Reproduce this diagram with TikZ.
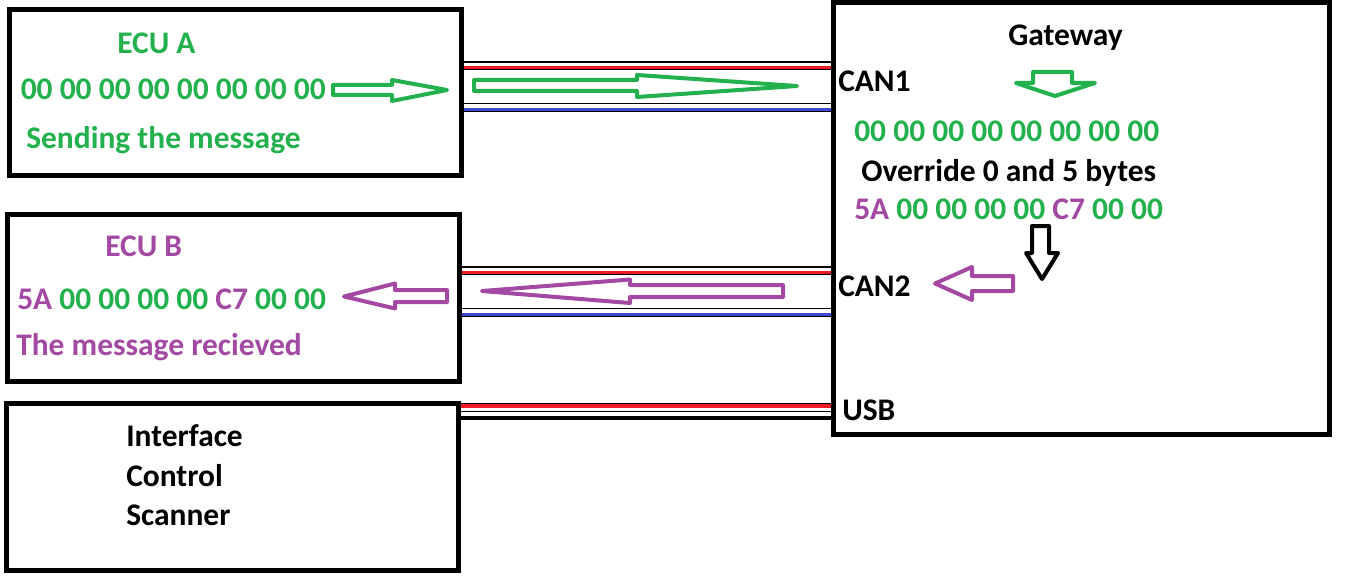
\documentclass[tikz,border=0pt]{standalone}
\usepackage{fontspec}
\setmainfont{Carlito}
\usetikzlibrary{fit}
\definecolor{ecugreen}{HTML}{22B14C}
\definecolor{ecupurple}{HTML}{A349A4}
\definecolor{wirered}{HTML}{ED1C24}
\definecolor{wireblue}{HTML}{3F48CC}

\begin{document}
\begin{tikzpicture}[x=0.75pt, y=-0.75pt,
	box/.style={draw, line width=3.75pt, inner sep=0pt},
	lbl/.style={anchor=base west, inner sep=0pt, font=\fontsize{23.6}{28}\selectfont\bfseries},
	thinw/.style={line width=1.1pt},
	canh/.style={line width=2.4pt, draw=wirered},
	canl/.style={line width=2.4pt, draw=wireblue},
	flow/.style={line width=3pt, line join=round}]
\useasboundingbox (0,0) rectangle (1355,581);
% boxes
\node[box, fit={(9.5,9.5) (461.5,175.5)}] (ecuA) {};
\node[box, fit={(7.5,214.5) (459.5,381)}] (ecuB) {};
\node[box, fit={(6.5,403) (458.5,570.5)}] (ics) {};
\node[box, fit={(833.5,2.5) (1329,434.5)}] (gw) {};
% CAN1 bus
\draw[thinw] (ecuA.east |- 0,62) -- (gw.west |- 0,62);
\draw[canh] (ecuA.east |- 0,67.5) -- (gw.west |- 0,67.5);
\draw[thinw] (ecuA.east |- 0,69.5) -- (gw.west |- 0,69.5);
\draw[thinw] (ecuA.east |- 0,103.5) -- (gw.west |- 0,103.5);
\draw[canl] (ecuA.east |- 0,109.3) -- (gw.west |- 0,109.3);
\draw[thinw] (ecuA.east |- 0,111.5) -- (gw.west |- 0,111.5);
% CAN2 bus
\draw[thinw] (ecuB.east |- 0,267) -- (gw.west |- 0,267);
\draw[canh] (ecuB.east |- 0,272.5) -- (gw.west |- 0,272.5);
\draw[thinw] (ecuB.east |- 0,274.5) -- (gw.west |- 0,274.5);
\draw[thinw] (ecuB.east |- 0,308.5) -- (gw.west |- 0,308.5);
\draw[canl] (ecuB.east |- 0,314.3) -- (gw.west |- 0,314.3);
\draw[thinw] (ecuB.east |- 0,316.5) -- (gw.west |- 0,316.5);
% USB
\draw[thinw] (ics.east |- 0,403.3) -- (gw.west |- 0,403.3);
\draw[line width=3pt, wirered] (ics.east |- 0,405.6) -- (gw.west |- 0,405.6);
\draw[thinw] (ics.east |- 0,411.3) -- (gw.west |- 0,411.3);
\draw[line width=3.2pt] (ics.east |- 0,418) -- (gw.west |- 0,418);
% ECU A
\node[lbl, ecugreen] (ecuAname) at (117,53.5) {ECU A};
\node[lbl, ecugreen] (ecuAdata) at (20.5,99.5) {00 00 00 00 00 00 00 00};
\node[lbl, ecugreen] (ecuAstate) at (26,148) {Sending the message};
% ECU B
\node[lbl, ecupurple] (ecuBname) at (105,256.5) {ECU B};
\node[lbl, ecugreen] (ecuBdata) at (17,309.5) {\textcolor{ecupurple}{5A} 00 00 00 00 \textcolor{ecupurple}{C7} 00 00};
\node[lbl, ecupurple] (ecuBstate) at (16,355.5) {The message recieved};
% scanner
\node[lbl] (icsA) at (126,446.5) {Interface};
\node[lbl] (icsB) at (126,486) {Control};
\node[lbl] (icsC) at (126,525) {Scanner};
% gateway
\node[lbl] (gwname) at (1008,45.5) {Gateway};
\node[lbl] (can1) at (838,92) {CAN1};
\node[lbl] (can2) at (838,296.5) {CAN2};
\node[lbl] (usb) at (842,420.5) {USB};
\node[lbl, ecugreen] (gwin) at (854,141.5) {00 00 00 00 00 00 00 00};
\node[lbl] (gwrule) at (861,181.5) {Override 0 and 5 bytes};
\node[lbl, ecugreen] (gwout) at (854,219.5) {\textcolor{ecupurple}{5A} 00 00 00 00 \textcolor{ecupurple}{C7} 00 00};
% flow arrows
\draw[flow, ecugreen] (333,85) -- (392,85) -- (392,80) -- (447,90) -- (392,101) -- (392,95) -- (333,95) -- cycle;
\draw[flow, ecugreen] (474,80) -- (637,80) -- (637,75) -- (797,86) -- (637,97) -- (637,91) -- (474,91) -- cycle;
\draw[flow, ecugreen] (1033,72) -- (1072,72) -- (1072,83) -- (1095,83) -- (1055,96) -- (1016,83) -- (1033,83) -- cycle;
\draw[flow] (1032,226) -- (1049,226) -- (1049,253) -- (1058,253) -- (1042,279) -- (1026,253) -- (1032,253) -- cycle;
\draw[flow, ecupurple] (935,283.5) -- (972,267) -- (972,276) -- (1013,276) -- (1013,291) -- (972,291) -- (972,300) -- cycle;
\draw[flow, ecupurple] (482,291) -- (630,279.5) -- (630,285) -- (783,285) -- (783,297) -- (630,297) -- (630,303) -- cycle;
\draw[flow, ecupurple] (344,296.5) -- (395,283.5) -- (395,290) -- (447,290) -- (447,302) -- (395,302) -- (395,308.5) -- cycle;
\end{tikzpicture}
\end{document}
